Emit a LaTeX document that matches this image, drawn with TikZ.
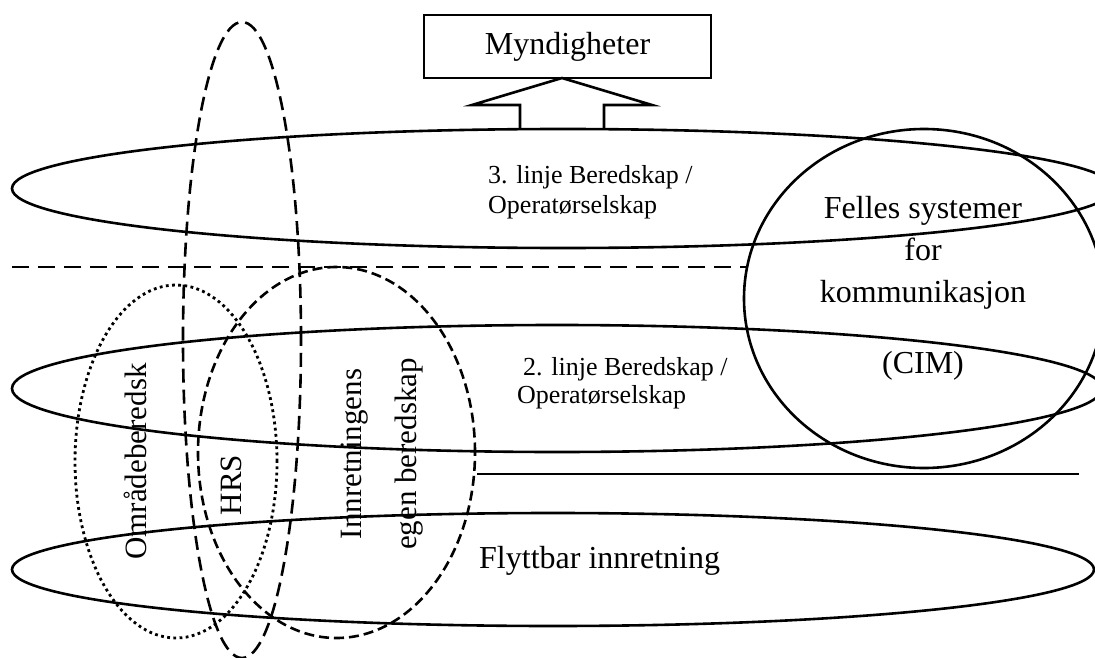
\documentclass[tikz,border=0pt]{standalone}
\usepackage{fontspec}
\setmainfont{Liberation Serif}
\usetikzlibrary{shapes.geometric}
\tikzstyle{ring} = [draw, ellipse, line width=2.6pt, inner sep=0pt]
\tikzstyle{tekst} = [inner sep=0pt]

\begin{document}
\begin{tikzpicture}[x=1pt,y=-1pt]

		\useasboundingbox (0,0) rectangle (1095,658);
		\clip (0,0) rectangle (1095,658);

		% myndigheter og pil
		\node [draw, line width=2.6pt, minimum width=287pt, minimum height=63pt, font=\fontsize{32}{38}\selectfont] (mynd) at (567.5,46.5) {Myndigheter};
		\draw [line width=2.6pt] (520,129) -- (520,105) -- (472,105) -- (562,78) -- (652,105) -- (604,105) -- (604,129);

		% beredskapslinjer
		\node [ring, minimum width=1102pt, minimum height=119pt] (linje3) at (563,188.5) {};
		\node [ring, minimum width=1090pt, minimum height=127pt] (linje2) at (557,388.5) {};
		\node [ring, minimum width=1082pt, minimum height=113pt] (linje1) at (553,569.5) {};
		\node [ring, minimum width=360pt, minimum height=339pt] (cim) at (924,298.5) {};

		\node [ring, line width=2.8pt, dash pattern=on 2.8pt off 3.4pt, minimum width=202pt, minimum height=353pt] (omr) at (176,461.5) {};
		\node [ring, dash pattern=on 14pt off 7pt, minimum width=118pt, minimum height=636pt] (hrs) at (242,340) {};
		\node [ring, dash pattern=on 10pt off 5pt, minimum width=277pt, minimum height=371pt] (egen) at (336.5,452.5) {};

		\coordinate (skilleA) at (12,267);
		\coordinate (skilleB) at (746,267);
		\draw [line width=2.4pt, dash pattern=on 17pt off 9pt] (skilleA) -- (skilleB);
		\coordinate (strekA) at (477,474);
		\coordinate (strekB) at (1079,474);
		\draw [line width=2.6pt] (strekA) -- (strekB);

		% tekster
		\node [tekst, anchor=north west, align=left, font=\fontsize{26}{30}\selectfont] (txt3) at (488,165) {3. linje Beredskap /\\Operatørselskap};
		\node [tekst, anchor=north west, align=left, font=\fontsize{26}{28}\selectfont] (txt2) at (517,357) {\hspace*{6pt}2. linje Beredskap /\\Operatørselskap};
		\node [tekst, anchor=base west, font=\fontsize{32}{38}\selectfont] (txt1) at (479,568) {Flyttbar innretning};
		\node [tekst, anchor=north, align=center, font=\fontsize{32}{42}\selectfont] (txtcim) at (923,196) {Felles systemer\\for\\kommunikasjon\\[29pt](CIM)};
		\node [tekst, rotate=90, font=\fontsize{31}{36}\selectfont] (txtomr) at (135,461.5) {Områdeberedsk};
		\node [tekst, rotate=90, font=\fontsize{31}{36}\selectfont] (txthrs) at (231.5,485) {HRS};
		\node [tekst, rotate=90, align=center, font=\fontsize{31}{55}\selectfont] (txtegen) at (382,454) {Innretningens\\egen beredskap};

\end{tikzpicture}
\end{document}
